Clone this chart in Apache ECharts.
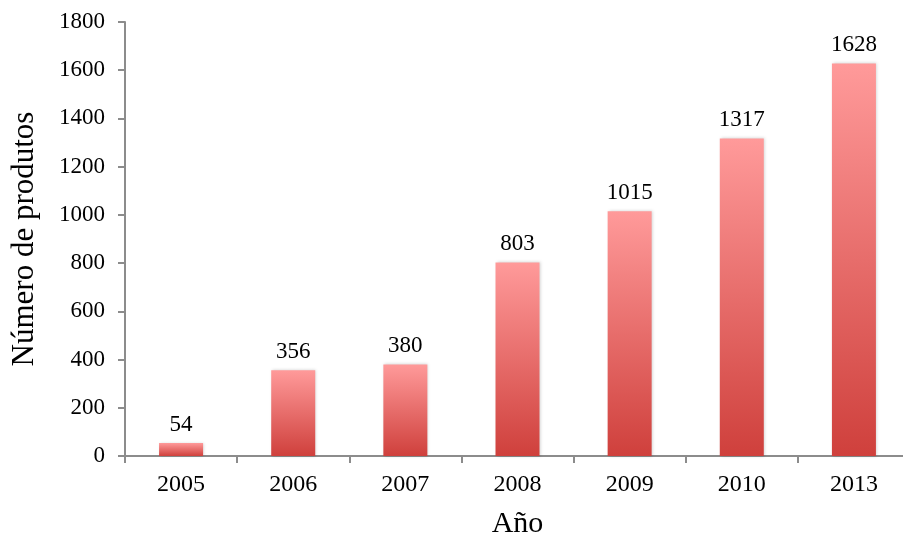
<!DOCTYPE html>
<html>
<head>
<meta charset="utf-8">
<script src="https://cdn.jsdelivr.net/npm/echarts@6/dist/echarts.min.js"></script>
<style>
  html, body { margin: 0; padding: 0; background: #fff; }
  #chart { width: 903px; height: 538px; }
</style>
</head>
<body>
<div id="chart"></div>
<script>
// dados
const years = ['2005', '2006', '2007', '2008', '2009', '2010', '2013'];
const produtos = [54, 356, 380, 803, 1015, 1317, 1628];

const chart = echarts.init(document.getElementById('chart'));
const serif = '"Liberation Serif", "DejaVu Serif", serif';
const axisGrey = '#8c8c8c';

const barGradient = new echarts.graphic.LinearGradient(0, 0, 0, 1, [
  { offset: 0, color: '#ff9a9a' },
  { offset: 1, color: '#cf403c' }
]);

const option = {
  animation: false,
  backgroundColor: '#fff',
  // posição fixa do grid (sem ajuste automático às labels)
  grid: { left: 125, top: 22, width: 785, height: 434, outerBoundsMode: 'none', containLabel: false },
  xAxis: {
    type: 'category',
    data: years,
    name: 'Año',
    nameLocation: 'middle',
    nameGap: 53,
    nameTextStyle: { fontFamily: serif, fontSize: 30, color: '#000' },
    axisLine: { lineStyle: { color: axisGrey, width: 2 } },
    axisTick: { show: true, length: 7, lineStyle: { color: axisGrey, width: 2 } },
    axisLabel: { fontFamily: serif, fontSize: 24, color: '#000', margin: 17 }
  },
  yAxis: {
    type: 'value',
    min: 0,
    max: 1800,
    interval: 200,
    name: 'Número de produtos',
    nameLocation: 'middle',
    nameGap: 85,
    nameTextStyle: { fontFamily: serif, fontSize: 31, color: '#000' },
    axisLine: { show: true, lineStyle: { color: axisGrey, width: 2 } },
    axisTick: { show: true, length: 7, lineStyle: { color: axisGrey, width: 2 } },
    splitLine: { show: false },
    axisLabel: {
      fontFamily: serif,
      fontSize: 23,
      color: '#000',
      margin: 20,
      formatter: (v) => String(v)
    }
  },
  series: [
    {
      type: 'bar',
      data: produtos,
      barWidth: 44,
      itemStyle: {
        color: barGradient,
        shadowColor: 'rgba(0,0,0,0.18)',
        shadowBlur: 3,
        shadowOffsetX: 1
      },
      label: {
        show: true,
        position: 'top',
        distance: 7,
        fontFamily: serif,
        fontSize: 23,
        color: '#000'
      }
    }
  ]
};

chart.setOption(option);
</script>
</body>
</html>
